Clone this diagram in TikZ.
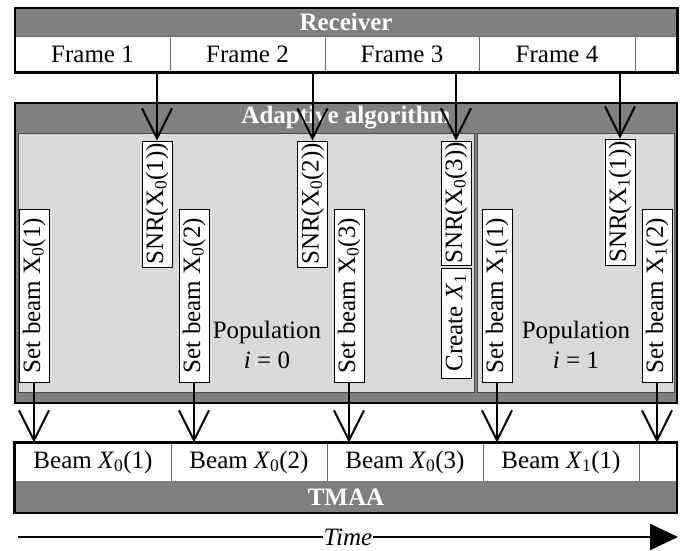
\documentclass[tikz,border=0pt]{standalone}
\usepackage{fontspec}
\setmainfont{Liberation Serif}
\usetikzlibrary{arrows.meta}
\definecolor{bandgray}{gray}{0.5}
\definecolor{panelgray}{gray}{0.85}

\begin{document}
\begin{tikzpicture}[x=1pt, y=-1pt,
		every node/.style={inner sep=0pt, font=\fontsize{25}{30}\selectfont},
		band/.style={fill=bandgray, text=white, minimum width=662pt, minimum height=#1, font=\fontsize{25}{30}\selectfont\bfseries},
		cell/.style={draw=black!60, line width=0.8pt, fill=white, minimum height=#1},
		vbox/.style={draw, line width=0.8pt, fill=white, rotate=90, minimum height=30pt, minimum width=#1},
		panel/.style={draw=black!70, line width=0.8pt, fill=panelgray, minimum height=259pt},
		arr/.style={-{Straight Barb[length=30pt, width=30pt]}, line width=2pt}]
		\useasboundingbox (0,0) rectangle (694,550);

		% receiver
		\node[band=28pt] (rcv) at (346,22) {Receiver};
		\node[cell=36pt, minimum width=155pt] (f1) at (92.5,54) {Frame 1};
		\node[cell=36pt, minimum width=155pt] (f2) at (247.5,54) {Frame 2};
		\node[cell=36pt, minimum width=154pt] (f3) at (402,54) {Frame 3};
		\node[cell=36pt, minimum width=156pt] (f4) at (557,54) {Frame 4};
		\node[cell=36pt, minimum width=42pt] (f5) at (656,54) {};
		\draw[line width=2.5pt] (rcv.north west) rectangle (f5.south east);

		% adaptive algorithm
		\node[draw, line width=2.5pt, fill=bandgray, minimum width=662pt, minimum height=300pt] (alg) at (346,253) {};
		\node[panel, minimum width=456pt] (p0) at (246,262.5) {};
		\node[panel, minimum width=197pt] (p1) at (575.5,262.5) {};
		\node[text=white, font=\fontsize{25}{30}\selectfont\bfseries] (algname) at (346,118) {Adaptive algorithm};
		\node[align=center] (pop0) at (267,345) {Population\\\textit{i} = 0};
		\node[align=center] (pop1) at (576,345) {Population\\\textit{i} = 1};

		\node[vbox=126pt] (s1) at (157,204) {SNR(X\textsubscript{0}(1))};
		\node[vbox=126pt] (s2) at (312.5,204) {SNR(X\textsubscript{0}(2))};
		\node[vbox=124pt] (s3) at (456,203) {SNR(X\textsubscript{0}(3))};
		\node[vbox=110pt] (c1) at (456,323) {Create \textit{X}\textsubscript{1}};
		\node[vbox=126pt] (s4) at (620,202) {SNR(X\textsubscript{1}(1))};

		\node[vbox=173pt] (b1) at (34,295.5) {Set beam X\textsubscript{0}(1)};
		\node[vbox=173pt] (b2) at (194,295.5) {Set beam X\textsubscript{0}(2)};
		\node[vbox=173pt] (b3) at (349,295.5) {Set beam X\textsubscript{0}(3)};
		\node[vbox=173pt] (b4) at (497,295.5) {Set beam X\textsubscript{1}(1)};
		\node[vbox=173pt] (b5) at (657,295.5) {Set beam X\textsubscript{1}(2)};

		% TMAA
		\node[cell=38pt, minimum width=156pt] (m1) at (93,462) {Beam \textit{X}\textsubscript{0}(1)};
		\node[cell=38pt, minimum width=156pt] (m2) at (249,462) {Beam \textit{X}\textsubscript{0}(2)};
		\node[cell=38pt, minimum width=156pt] (m3) at (405,462) {Beam \textit{X}\textsubscript{0}(3)};
		\node[cell=38pt, minimum width=156pt] (m4) at (561,462) {Beam \textit{X}\textsubscript{1}(1)};
		\node[cell=38pt, minimum width=38pt] (m5) at (658,462) {};
		\node[band=32pt] (tmaa) at (346,497) {TMAA};
		\draw[line width=2.5pt] (m1.north west) rectangle (tmaa.south east);

		% arrows
		\draw[arr] (f1.south -| s1.east) -- (s1.east);
		\draw[arr] (f2.south -| s2.east) -- (s2.east);
		\draw[arr] (f3.south -| s3.east) -- (s3.east);
		\draw[arr] (f4.south -| s4.east) -- (s4.east);
		\draw[arr] (b1.west) -- (b1.west |- m1.north);
		\draw[arr] (b2.west) -- (b2.west |- m2.north);
		\draw[arr] (b3.west) -- (b3.west |- m3.north);
		\draw[arr] (b4.west) -- (b4.west |- m4.north);
		\draw[arr] (b5.west) -- (b5.west |- m5.north);

		% time
		\coordinate (t0) at (18,537);
		\coordinate (t1) at (678,537);
		\draw[line width=2pt, -{Triangle[length=28pt, width=26pt]}] (t0) -- node[fill=white, inner sep=1pt, font=\fontsize{25}{30}\selectfont\itshape] (time) {Time} (t1);
	\end{tikzpicture}
\end{document}
